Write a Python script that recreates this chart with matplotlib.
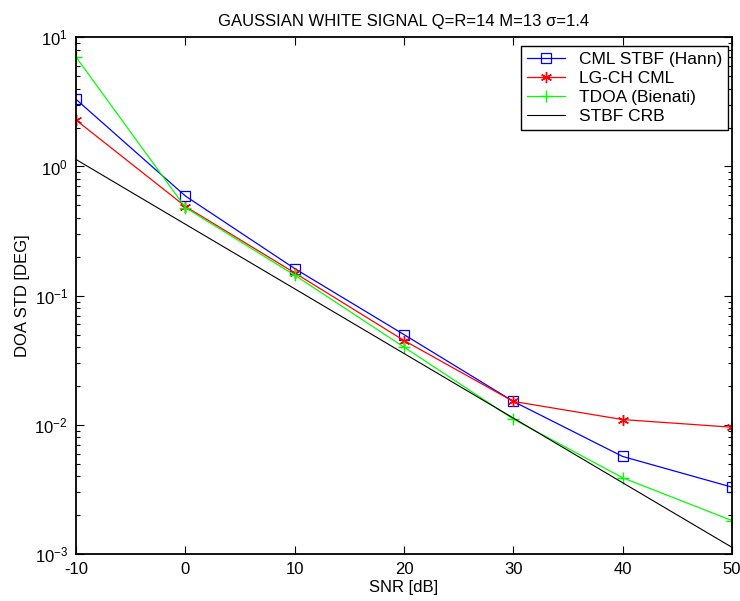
import numpy as np
import matplotlib
matplotlib.use("Agg")
import matplotlib.pyplot as plt

plt.rcParams['font.family'] = ['Liberation Sans', 'DejaVu Sans']
plt.rcParams['mathtext.fontset'] = 'custom'
plt.rcParams['mathtext.rm'] = 'Liberation Sans'
plt.rcParams['mathtext.it'] = 'Liberation Sans'
plt.rcParams['axes.unicode_minus'] = False

# values
snr = [-10, 0, 10, 20, 30, 40, 50]
cml_stbf = [3.3, 0.59, 0.162, 0.050, 0.0152, 0.0057, 0.0033]
lgch_cml = [2.28, 0.49, 0.150, 0.045, 0.0152, 0.0110, 0.0096]
tdoa = [7.0, 0.48, 0.144, 0.040, 0.0111, 0.0039, 0.00182]
crb = [1.13, 0.357, 0.113, 0.0357, 0.0113, 0.00357, 0.00113]

fig = plt.figure(figsize=(7.4, 6.01), dpi=100)
ax = fig.add_axes([0.103, 0.078, 0.886, 0.860])

ax.plot(snr, cml_stbf, color=(0, 0, 1), lw=0.9, marker='s', ms=7,
        mfc='none', mec=(0, 0, 1), mew=0.9, label='CML STBF (Hann)')
ax.plot(snr, lgch_cml, color=(1, 0, 0), lw=0.9, marker=(6, 2, 0), ms=8,
        mec=(1, 0, 0), mew=1.0, label='LG-CH CML')
ax.plot(snr, tdoa, color=(0, 1, 0), lw=0.9, marker='+', ms=9,
        mew=1.0, label='TDOA (Bienati)')
ax.plot(snr, crb, color='k', lw=0.8, label='STBF CRB')

ax.set_yscale('log')
ax.set_xlim(-10, 50)
ax.set_ylim(1e-3, 1e1)
ax.set_xticks([-10, 0, 10, 20, 30, 40, 50])
ax.set_yticks([1e-3, 1e-2, 1e-1, 1e0, 1e1])
ax.set_yticklabels([r'$10^{-3}$', r'$10^{-2}$', r'$10^{-1}$', r'$10^{0}$', r'$10^{1}$'])

ax.tick_params(which='both', direction='in', top=True, right=True,
               labelsize=12, width=0.8)
ax.tick_params(which='major', length=6, pad=6)
ax.tick_params(which='minor', length=3)
for s in ax.spines.values():
    s.set_linewidth(1.3)

ax.set_xlabel('SNR [dB]', fontsize=12, labelpad=2)
ax.set_ylabel('DOA STD [DEG]', fontsize=12, labelpad=3)
ax.set_title('GAUSSIAN WHITE SIGNAL Q=R=14 M=13 σ=1.4', fontsize=12, pad=8)

leg = ax.legend(loc='upper right', bbox_to_anchor=(1.0, 0.99), fontsize=12.5,
                fancybox=False, shadow=False, framealpha=1, edgecolor='k',
                borderaxespad=0.2, handlelength=2.2, labelspacing=0.22,
                borderpad=0.35)
leg.get_frame().set_linewidth(1.0)

fig.savefig('out.png', dpi=100)
